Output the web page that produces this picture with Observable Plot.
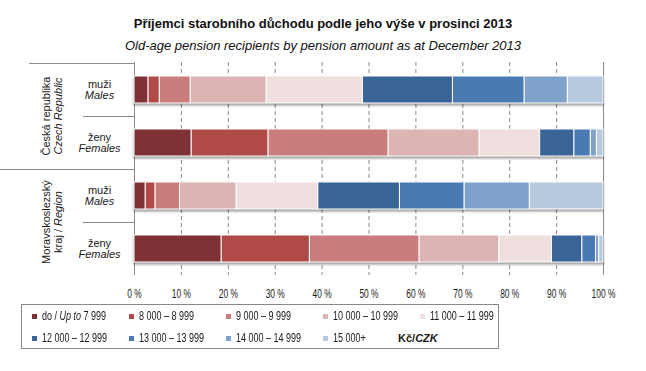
<!DOCTYPE html>
<html>
<head>
<meta charset="utf-8">
<script src="https://cdn.jsdelivr.net/npm/d3@7"></script>
<script src="https://cdn.jsdelivr.net/npm/@observablehq/plot@0.6"></script>
<style>
  body { margin: 0; background: #fff; font-family: "Liberation Sans", Arial, sans-serif; }
  #wrap { position: relative; width: 646px; height: 371px; overflow: hidden; background: #fff; }
  #title { position: absolute; top: 16px; left: 0; width: 646px; text-align: center; font-weight: bold; font-size: 13px; line-height: 15px; color: #111; }
  #subtitle { position: absolute; top: 38px; left: 0; width: 646px; text-align: center; font-style: italic; font-size: 13px; line-height: 15px; color: #111; }
  #chart { position: absolute; top: 48px; left: 0; }
  #legend { position: absolute; left: 21px; top: 304px; width: 476px; height: 43px; border: 1px solid #888; box-sizing: content-box;
            display: grid; grid-template-columns: repeat(5, 97px); grid-auto-rows: 22px; padding-left: 0; }
  #legend .item { font-size: 12px; line-height: 22px; color: #1a1a1a; white-space: nowrap; padding-left: 10px; }
  #legend .sw { display: inline-block; width: 5px; height: 5px; margin-right: 5px; vertical-align: 1px; }
  #legend .lab { display: inline-block; transform: scaleX(0.75); transform-origin: left center; }
  #legend .unit { font-weight: bold; font-size: 11px; margin-left: -22px; }
</style>
</head>
<body>
<div id="wrap">
  <div id="title">Příjemci starobního důchodu podle jeho výše v prosinci 2013</div>
  <div id="subtitle">Old-age pension recipients by pension amount as at December 2013</div>
  <div id="chart"></div>
  <div id="legend"></div>
</div>
<script>
// ---- data ----
const groups = ["Česká republika", "Moravskoslezský"];
const groupsLine2 = ["Czech Republic", "kraj / Region"];
const sexes = ["muži", "ženy"];
const sexesEn = ["Males", "Females"];
const bins = ["do / Up to 7 999", "8 000 – 8 999", "9 000 – 9 999", "10 000 – 10 999", "11 000 – 11 999",
              "12 000 – 12 999", "13 000 – 13 999", "14 000 – 14 999", "15 000+"];
const binLabelsHtml = ["do / <i>Up to</i> 7 999", "8 000 – 8 999", "9 000 – 9 999", "10 000 – 10 999", "11 000 – 11 999",
              "12 000 – 12 999", "13 000 – 13 999", "14 000 – 14 999", "15 000+"];
const colors = ["#7f3235", "#b04a48", "#c97d7d", "#ddb4b4", "#efdfdf", "#3a6396", "#4a7ab4", "#7fa2cb", "#b7cae0"];
const czMales   = [3.0, 2.4, 6.6, 16.2, 20.5, 19.2, 15.3, 9.2, 7.6];
const czFemales = [12.2, 16.4, 25.6, 19.4, 12.9, 7.3, 3.5, 1.3, 1.4];
const msMales   = [2.4, 2.1, 5.2, 12.1, 17.4, 17.4, 13.8, 13.9, 15.7];
const msFemales = [18.6, 18.8, 23.4, 17.0, 11.2, 6.5, 2.9, 0.7, 0.9];
const xTicks = [0, 10, 20, 30, 40, 50, 60, 70, 80, 90, 100];
const unitLabel = "Kč/<i>CZK</i>";

// ---- tables ----
const series = [[czMales, czFemales], [msMales, msFemales]];
const rowKeys = [];
const rowLabels = [];
const table = [];
groups.forEach((g, gi) => sexes.forEach((s, si) => {
  const key = g + "|" + s;
  rowKeys.push(key);
  rowLabels.push({row: key, cs: s, en: sexesEn[si]});
  series[gi][si].forEach((v, bi) => table.push({row: key, bin: bins[bi], value: v}));
}));

const plot = Plot.plot({
  width: 646,
  height: 256,
  marginLeft: 134,
  marginRight: 43,
  marginTop: 14,
  marginBottom: 29,
  style: {fontFamily: "'Liberation Sans', Arial, sans-serif", fontSize: "11px", color: "#1a1a1a", background: "transparent", overflow: "visible"},
  x: {domain: [0, 100], ticks: xTicks, tickFormat: d => d + " %", label: null, tickSize: 0, tickPadding: 14},
  y: {domain: rowKeys, paddingInner: 0.5, paddingOuter: 0.25, axis: null},
  color: {domain: bins, range: colors},
  marks: [
    Plot.ruleX(xTicks.slice(1, -1), {stroke: "#8a8a8a", strokeDasharray: "4,3", strokeWidth: 1}),
    Plot.ruleX([xTicks[0], xTicks[xTicks.length - 1]], {stroke: "#8a8a8a", strokeWidth: 1}),
    Plot.barX(table, {x: "value", y: "row", fill: "bin", stroke: "white", strokeWidth: 1}),
    Plot.text(rowLabels, {y: "row", text: "cs", frameAnchor: "left", dx: -35, dy: -5.5, textAnchor: "middle"}),
    Plot.text(rowLabels, {y: "row", text: "en", frameAnchor: "left", dx: -35, dy: 5.5, textAnchor: "middle", fontStyle: "italic"})
  ]
});

document.getElementById("chart").appendChild(plot);

// narrower tick labels (condensed look of the original)
d3.select(plot).selectAll("g[aria-label='x-axis tick label'] text").each(function () {
  const t = this.getAttribute("transform") || "";
  this.setAttribute("transform", t + " scale(0.7,1)");
  this.style.fontSize = "12px";
});

// shadow under bars
d3.select(plot).selectAll("g[aria-label='bar']").style("filter", "drop-shadow(0px 2px 1.2px rgba(0,0,0,0.38))");

// separators and group labels from the scales
const ys = plot.scale("y");
const xs = plot.scale("x");
const gap = (ys.step - ys.bandwidth) / 2;
const bound = i => i < rowKeys.length ? ys.apply(rowKeys[i]) - gap : ys.apply(rowKeys[rowKeys.length - 1]) + ys.bandwidth + gap;
const x0 = xs.apply(0);
const svg = d3.select(plot);
const sep = svg.append("g").attr("stroke", "#8a8a8a").attr("stroke-width", 1);
[[29, 0], [83, 1], [0, 2], [83, 3]].forEach(([xa, i]) => {
  const yy = Math.round(bound(i)) + 0.5;
  sep.append("line").attr("x1", xa).attr("x2", x0).attr("y1", yy).attr("y2", yy);
});
const gl = svg.append("g").attr("font-size", 11).attr("fill", "#1a1a1a").attr("text-anchor", "middle");
groups.forEach((g, gi) => {
  const cy = (bound(gi * 2) + bound(gi * 2 + 2)) / 2;
  gl.append("text").attr("transform", `translate(46,${cy}) rotate(-90)`).attr("dy", "0.35em").text(g);
  const t2 = gl.append("text").attr("transform", `translate(58,${cy}) rotate(-90)`).attr("dy", "0.35em");
  const parts = groupsLine2[gi].split("/ ");
  if (parts.length > 1) {
    t2.append("tspan").text(parts[0] + "/ ");
    t2.append("tspan").attr("font-style", "italic").text(parts[1]);
  } else {
    t2.attr("font-style", "italic").text(groupsLine2[gi]);
  }
});

// legend
const leg = document.getElementById("legend");
bins.forEach((b, i) => {
  const d = document.createElement("div");
  d.className = "item";
  d.innerHTML = `<span class="sw" style="background:${colors[i]}"></span><span class="lab">${binLabelsHtml[i]}</span>`;
  leg.appendChild(d);
});
const u = document.createElement("div");
u.className = "item";
u.innerHTML = `<span class="unit">${unitLabel}</span>`;
leg.appendChild(u);
</script>
</body>
</html>
